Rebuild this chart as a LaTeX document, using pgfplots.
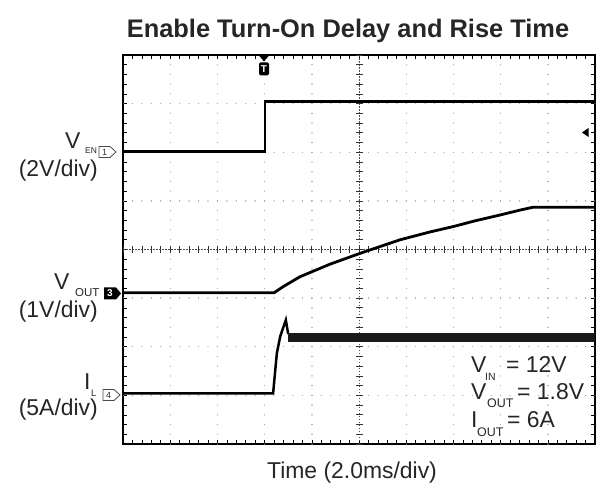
\documentclass[border=0pt]{standalone}
\usepackage{pgfplots}
\pgfplotsset{compat=1.18}
\usepackage{fontspec}
\setmainfont{Liberation Sans}
\begin{document}
\begin{tikzpicture}
\begin{axis}[
  scale only axis, width=472bp, height=389bp,
  at={(0,0)}, anchor=south west,
  xmin=0, xmax=10, ymin=0, ymax=8,
  axis line style={line width=1.4bp},
  xtick={0,...,10}, ytick={0,...,8},
  minor tick num=4,
  xticklabels={}, yticklabels={},
  tick align=inside,
  major tick length=4bp, minor tick length=4bp,
  tick style={black, line width=0.6bp},
]
% dotted grid
\pgfplotsinvokeforeach{1,2,3,4,6,7,8,9}{
  \draw[gray!70, line width=1.4bp, line cap=round, dash pattern=on 0.01bp off 9.715bp] (axis cs:#1,0) -- (axis cs:#1,8);
}
\pgfplotsinvokeforeach{1,2,3,5,6,7}{
  \draw[gray!70, line width=1.4bp, line cap=round, dash pattern=on 0.01bp off 9.43bp] (axis cs:0,#1) -- (axis cs:10,#1);
}
% centre lines with ticks
\draw[gray!60!black, line width=0.5bp, dash pattern=on 1.5bp off 1.5bp] (axis cs:5,0) -- (axis cs:5,8);
\draw[gray!60!black, line width=0.5bp, dash pattern=on 1.5bp off 1.5bp] (axis cs:0,4) -- (axis cs:10,4);
\draw[gray!40!black, line width=7bp, dash pattern=on 0.7bp off 9.025bp, dash phase=0.35bp] (axis cs:5,0) -- (axis cs:5,8);
\draw[gray!40!black, line width=7bp, dash pattern=on 0.7bp off 8.74bp, dash phase=0.35bp] (axis cs:0,4) -- (axis cs:10,4);
% V_EN
\addplot[black, line width=2.5bp] coordinates {(0,6.02) (3.01,6.02) (3.01,7.04) (10,7.04)};
% V_OUT
\addplot[black, line width=2.8bp] coordinates {(0,3.11) (3.2,3.11) (3.40,3.24) (3.75,3.44) (4.39,3.70) (5.02,3.92) (5.87,4.20) (6.5,4.36) (6.99,4.47) (7.46,4.59) (7.99,4.71) (8.41,4.81) (8.69,4.87) (10,4.87)};
% I_L
\addplot[black, line width=2.5bp] coordinates {(0,1.04) (3.18,1.04) (3.22,1.46) (3.26,1.87) (3.33,2.21) (3.40,2.41) (3.45,2.55) (3.50,2.26)};
\addplot[black!90, line width=9bp] coordinates {(3.50,2.19) (10,2.19)};
\end{axis}
\begin{scope}[x=1bp, y=-1bp, shift={(-123bp,444bp)}]
\path (0,0) rectangle (601,489);
\tikzset{every node/.style={inner sep=0pt}}
\node[anchor=base, font=\bfseries\fontsize{25.5}{30}\selectfont, text=black!85] at (348,38) {Enable Turn-On Delay and Rise Time};
\node[anchor=base, font=\fontsize{23}{26}\selectfont, text=black!85] at (352,479) {Time (2.0ms/div)};
% left labels
\node[anchor=base west, font=\fontsize{23}{26}\selectfont, text=black!85] at (65,149) {V};
\node[anchor=base west, font=\fontsize{8.5}{9}\selectfont, text=black!85] at (85,154) {EN};
\node[anchor=base east, font=\fontsize{23}{26}\selectfont, text=black!85] at (98,176.5) {(2V/div)};
\node[anchor=base west, font=\fontsize{23}{26}\selectfont, text=black!85] at (54,290) {V};
\node[anchor=base west, font=\fontsize{11.5}{13}\selectfont, text=black!85] at (75,297) {OUT};
\node[anchor=base east, font=\fontsize{23}{26}\selectfont, text=black!85] at (98,318) {(1V/div)};
\node[anchor=base west, font=\fontsize{23}{26}\selectfont, text=black!85] at (84,390) {I};
\node[anchor=base west, font=\fontsize{9.5}{10}\selectfont, text=black!85] at (91,397) {L};
\node[anchor=base east, font=\fontsize{23}{26}\selectfont, text=black!85] at (98,416) {(5A/div)};
% annotation
\node[anchor=base west, font=\fontsize{23}{26}\selectfont, text=black!85] at (471,373) {V};
\node[anchor=base west, font=\fontsize{10.5}{12}\selectfont, text=black!85] at (485,381) {IN};
\node[anchor=base west, font=\fontsize{23}{26}\selectfont, text=black!85] at (506,373) {= 12V};
\node[anchor=base west, font=\fontsize{23}{26}\selectfont, text=black!85] at (471,400) {V};
\node[anchor=base west, font=\fontsize{12.5}{14}\selectfont, text=black!85] at (487,408) {OUT};
\node[anchor=base west, font=\fontsize{23}{26}\selectfont, text=black!85] at (517,400) {= 1.8V};
\node[anchor=base west, font=\fontsize{23}{26}\selectfont, text=black!85] at (471,428) {I};
\node[anchor=base west, font=\fontsize{12.5}{14}\selectfont, text=black!85] at (477,437) {OUT};
\node[anchor=base west, font=\fontsize{23}{26}\selectfont, text=black!85] at (507,428) {= 6A};
% channel markers
\draw[black!70, line width=0.8bp, fill=white] (99,146.5)--(110,146.5)--(116,152)--(110,157.5)--(99,157.5)--cycle;
\node[font=\fontsize{9}{9}\selectfont, text=black!80] at (104.5,152) {1};
\fill[black] (104,287.5)--(116,287.5)--(121,293.5)--(116,299.5)--(104,299.5)--cycle;
\node[font=\bfseries\fontsize{10}{10}\selectfont, text=white] at (110,293.5) {3};
\draw[black!70, line width=0.8bp, fill=white] (103,389.5)--(114,389.5)--(120,395)--(114,400.5)--(103,400.5)--cycle;
\node[font=\fontsize{9}{9}\selectfont, text=black!80] at (108.5,395) {4};
% trigger marker
\fill[black] (258.5,55)--(269.5,55)--(264,61.5)--cycle;
\node[fill=black, rounded corners=1.5bp, minimum width=10bp, minimum height=13bp, text=white, font=\bfseries\fontsize{10}{10}\selectfont] at (264,69) {T};
% trigger level marker
\fill[black] (582,132.5)--(588.5,128)--(588.5,137)--cycle;
\end{scope}
\end{tikzpicture}
\end{document}
